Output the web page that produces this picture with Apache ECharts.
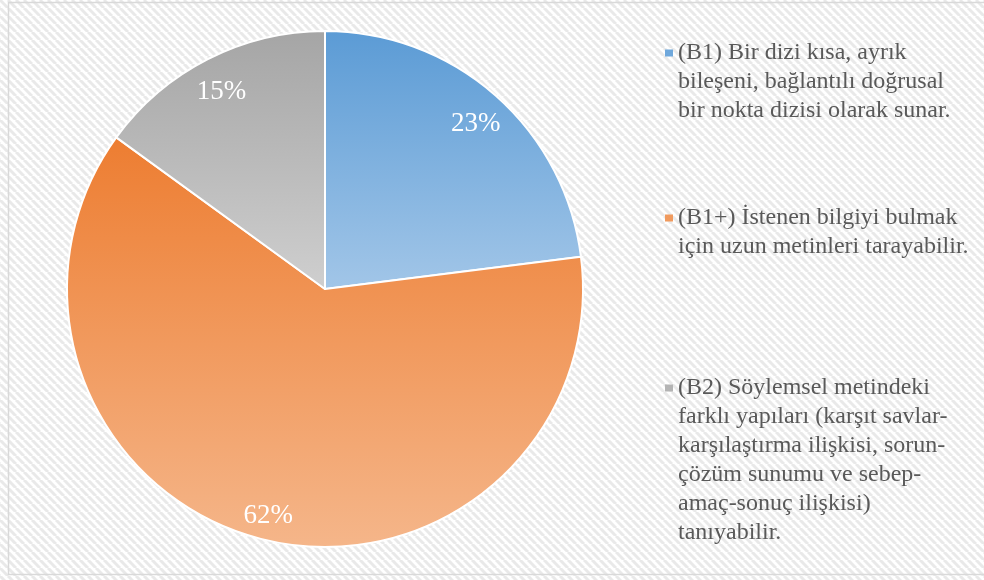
<!DOCTYPE html>
<html>
<head>
<meta charset="utf-8">
<script src="https://cdn.jsdelivr.net/npm/echarts@6/dist/echarts.min.js"></script>
<style>html,body{margin:0;padding:0;background:#fff}#c{width:984px;height:580px}</style>
</head>
<body>
<div id="c"></div>
<script>
// ---- data ----
const categories = [
  "(B1) Bir dizi kısa, ayrık\nbileşeni, bağlantılı doğrusal\nbir nokta dizisi olarak sunar.",
  "(B1+) İstenen bilgiyi bulmak\niçin uzun metinleri tarayabilir.",
  "(B2) Söylemsel metindeki\nfarklı yapıları (karşıt savlar-\nkarşılaştırma ilişkisi, sorun-\nçözüm sunumu ve sebep-\namaç-sonuç ilişkisi)\ntanıyabilir."
];
const values = [23, 62, 15];

// ---- styles ----
const gradients = [
  ['#5b9bd5', '#a2c6e8'],
  ['#ed7d31', '#f5b68a'],
  ['#a5a5a5', '#cfcfcf']
];
const legendIconColors = ['#6fa8dc', '#f09a5e', '#b4b4b4'];
const legendFirstLine = [53, 218, 388];
const FONT = '"Liberation Serif", "Times New Roman", serif';
const LINE_H = 29;

function grad(c) {
  return { type: 'linear', x: 0, y: 0, x2: 0, y2: 1,
    colorStops: [{ offset: 0, color: c[0] }, { offset: 1, color: c[1] }] };
}

// striped background pattern
const pc = document.createElement('canvas');
pc.width = 8; pc.height = 8;
const g = pc.getContext('2d');
g.fillStyle = '#ffffff'; g.fillRect(0, 0, 8, 8);
g.strokeStyle = '#e9e9e9'; g.lineWidth = 3;
for (let x0 = -8; x0 <= 8; x0 += 8) {
  g.beginPath(); g.moveTo(x0, 0); g.lineTo(x0 + 8, 8); g.stroke();
}

const pieData = categories.map((name, i) => ({
  name, value: values[i], itemStyle: { color: grad(gradients[i]) }
}));

const legends = categories.map((name, i) => {
  const n = name.split('\n').length;
  const H = n * LINE_H;
  const sq = (LINE_H - 7) / 2;
  return {
    data: [{ name, itemStyle: { color: legendIconColors[i], borderWidth: 0 } }],
    orient: 'vertical',
    left: 665,
    top: legendFirstLine[i] - LINE_H / 2,
    itemWidth: 8, itemHeight: H,
    icon: 'path://M0,0 M0,' + sq + ' h8 v7 h-8 Z M8,' + H,
    selectedMode: false,
    padding: 0,
    itemStyle: { borderWidth: 0 },
    textStyle: {
      fontFamily: FONT, fontSize: 24, color: '#595959', lineHeight: LINE_H
    }
  };
});

const chart = echarts.init(document.getElementById('c'), null, { renderer: 'canvas' });
chart.setOption({
  animation: false,
  graphic: [
    { type: 'rect', z: -100, silent: true,
      shape: { x: 0, y: 0, width: 984, height: 580 },
      style: { fill: { image: pc, repeat: 'repeat' } } },
    { type: 'rect', z: -99, silent: true,
      shape: { x: 8.5, y: 2.5, width: 1000, height: 572 },
      style: { fill: 'none', stroke: '#d9d9d9', lineWidth: 1.5 } }
  ],
  legend: legends,
  series: [
    {
      type: 'pie',
      center: [325, 289],
      radius: [0, 258],
      startAngle: 90,
      clockwise: true,
      label: { show: false },
      labelLine: { show: false },
      emphasis: { disabled: true },
      itemStyle: { borderColor: '#ffffff', borderWidth: 2 },
      data: pieData
    },
    {
      type: 'pie',
      center: [325, 289],
      radius: [192, 258],
      startAngle: 90,
      clockwise: true,
      silent: true,
      emphasis: { disabled: true },
      itemStyle: { color: 'rgba(0,0,0,0)' },
      label: {
        show: true, position: 'inside',
        formatter: '{c}%', offset: [0, 6],
        color: '#ffffff', fontFamily: FONT, fontSize: 27
      },
      labelLine: { show: false },
      data: categories.map((name, i) => ({ name, value: values[i] }))
    }
  ]
});
</script>
</body>
</html>
